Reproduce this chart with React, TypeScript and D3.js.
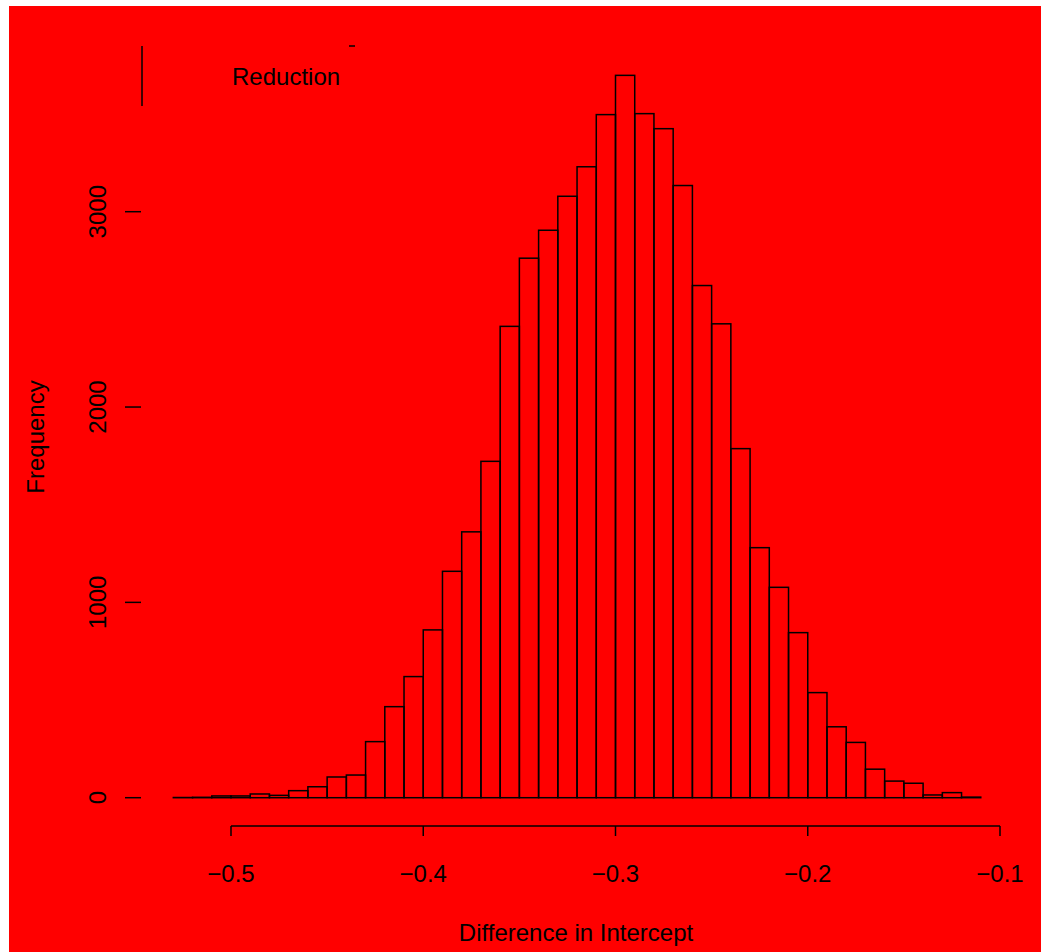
import React, { useEffect, useRef } from 'react';
import * as d3 from 'd3';

// histogram bins (lower edge of each 0.01 wide bin) and their counts
const binStarts = [
  -0.53, -0.52, -0.51, -0.5, -0.49, -0.48, -0.47, -0.46, -0.45, -0.44,
  -0.43, -0.42, -0.41, -0.4, -0.39, -0.38, -0.37, -0.36, -0.35, -0.34,
  -0.33, -0.32, -0.31, -0.3, -0.29, -0.28, -0.27, -0.26, -0.25, -0.24,
  -0.23, -0.22, -0.21, -0.2, -0.19, -0.18, -0.17, -0.16, -0.15, -0.14,
  -0.13, -0.12,
];
const counts = [
  1, 2, 9, 9, 19, 12, 36, 56, 106, 116,
  287, 466, 620, 859, 1159, 1361, 1722, 2413, 2762, 2905,
  3079, 3230, 3497, 3698, 3502, 3425, 3134, 2622, 2426, 1787,
  1280, 1077, 845, 538, 363, 283, 146, 85, 74, 14,
  26, 3,
];
const binWidth = 0.01;
const xTicks = [-0.5, -0.4, -0.3, -0.2, -0.1];
const yTicks = [0, 1000, 2000, 3000];
const xTitle = 'Difference in Intercept';
const yTitle = 'Frequency';
const legendLabel = 'Reduction';

const W = 1041;
const H = 952;
const FONT = '"Liberation Sans", Arial, Helvetica, sans-serif';

const App = () => {
  const ref = useRef<SVGGElement>(null);

  useEffect(() => {
    const g = d3.select(ref.current);
    g.selectAll('*').remove();

    // background panel
    g.append('rect')
      .attr('x', 9).attr('y', 6)
      .attr('width', W - 9).attr('height', H - 6)
      .attr('fill', '#ff0000');

    const x = d3.scaleLinear().domain([-0.5, -0.1]).range([231, 1000]);
    const y = d3.scaleLinear().domain([0, 3000]).range([797.7, 211.7]);

    const bins = binStarts.map((s, i) => ({ x0: s, x1: s + binWidth, n: counts[i] }));

    // bars
    g.append('g')
      .selectAll('rect')
      .data(bins)
      .enter()
      .append('rect')
      .attr('x', d => x(d.x0))
      .attr('y', d => y(d.n))
      .attr('width', d => x(d.x1) - x(d.x0))
      .attr('height', d => y(0) - y(d.n))
      .attr('fill', 'none')
      .attr('stroke', '#000')
      .attr('stroke-width', 1.5);

    // x axis
    const xa = g.append('g');
    xa.append('line')
      .attr('x1', x(xTicks[0])).attr('x2', x(xTicks[xTicks.length - 1]))
      .attr('y1', 826).attr('y2', 826)
      .attr('stroke', '#000').attr('stroke-width', 1.5);
    xa.selectAll('.xt')
      .data(xTicks)
      .enter()
      .append('line')
      .attr('x1', d => x(d)).attr('x2', d => x(d))
      .attr('y1', 826).attr('y2', 836)
      .attr('stroke', '#000').attr('stroke-width', 1.5);
    xa.selectAll('text')
      .data(xTicks)
      .enter()
      .append('text')
      .attr('x', d => x(d))
      .attr('y', 882)
      .attr('text-anchor', 'middle')
      .attr('font-family', FONT)
      .attr('font-size', 24)
      .text(d => d3.format('.1f')(d));

    // y axis ticks (no axis line visible)
    const ya = g.append('g');
    ya.selectAll('line')
      .data(yTicks)
      .enter()
      .append('line')
      .attr('x1', 125).attr('x2', 141)
      .attr('y1', d => y(d)).attr('y2', d => y(d))
      .attr('stroke', '#000').attr('stroke-width', 1.5);
    ya.selectAll('text')
      .data(yTicks)
      .enter()
      .append('text')
      .attr('transform', d => `translate(106,${y(d)}) rotate(-90)`)
      .attr('text-anchor', 'middle')
      .attr('font-family', FONT)
      .attr('font-size', 24)
      .text(d => String(d));

    // titles
    g.append('text')
      .attr('x', 576).attr('y', 941)
      .attr('text-anchor', 'middle')
      .attr('font-family', FONT)
      .attr('font-size', 24)
      .text(xTitle);
    g.append('text')
      .attr('transform', 'translate(44,437) rotate(-90)')
      .attr('text-anchor', 'middle')
      .attr('font-family', FONT)
      .attr('font-size', 24)
      .text(yTitle);

    // legend (only bits of its box survive)
    g.append('line')
      .attr('x1', 142).attr('x2', 142)
      .attr('y1', 46).attr('y2', 106)
      .attr('stroke', '#000').attr('stroke-width', 1.5);
    g.append('line')
      .attr('x1', 349).attr('x2', 355)
      .attr('y1', 46).attr('y2', 46)
      .attr('stroke', '#000').attr('stroke-width', 1.5);
    g.append('text')
      .attr('x', 232).attr('y', 85)
      .attr('font-family', FONT)
      .attr('font-size', 24)
      .text(legendLabel);
  }, []);

  return (
    <svg
      width={W}
      height={H}
      style={{ position: 'absolute', left: 0, top: 0, background: '#fff' }}
    >
      <g ref={ref} />
    </svg>
  );
};

export default App;
